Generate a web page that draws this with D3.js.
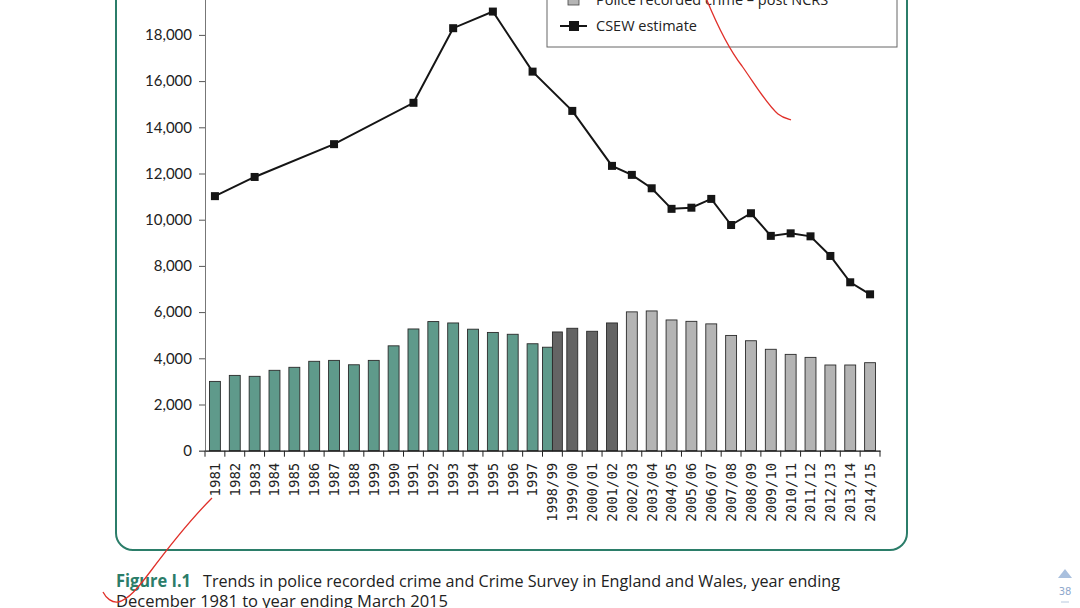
<!DOCTYPE html>
<html><head><meta charset="utf-8">
<script src="https://cdn.jsdelivr.net/npm/d3@7"></script>
<style>
html,body{margin:0;padding:0;background:#fff;overflow:hidden;}
svg{display:block;}
</style></head>
<body>
<svg id="chart" width="1080" height="608"></svg>
<script>
// ---- data ----
const categories = ["1981","1982","1983","1984","1985","1986","1987","1988","1999","1990","1991","1992","1993","1994","1995","1996","1997",
  "1998/99","1999/00","2000/01","2001/02","2002/03","2003/04","2004/05","2005/06","2006/07","2007/08","2008/09","2009/10","2010/11","2011/12","2012/13","2013/14","2014/15"];
const oldRulesCats = ["1981","1982","1983","1984","1985","1986","1987","1988","1999","1990","1991","1992","1993","1994","1995","1996","1997","1998/99"];
const oldRulesValues = [3000,3260,3220,3480,3610,3870,3910,3720,3910,4540,5270,5590,5530,5260,5120,5040,4630,4480];
const newRulesCats = ["1998/99","1999/00","2000/01","2001/02"];
const newRulesValues = [5140,5300,5170,5530];
const postNCRSCats = ["2002/03","2003/04","2004/05","2005/06","2006/07","2007/08","2008/09","2009/10","2010/11","2011/12","2012/13","2013/14","2014/15"];
const postNCRSValues = [6010,6050,5660,5600,5490,4990,4760,4390,4170,4040,3710,3710,3810];
const csewCats = ["1981","1983","1987","1991","1993","1995","1997","1999/00","2001/02","2002/03","2003/04","2004/05","2005/06","2006/07","2007/08","2008/09","2009/10","2010/11","2011/12","2012/13","2013/14","2014/15"];
const csewValues = [11020,11850,13270,15060,18290,19010,16410,14710,12330,11940,11360,10470,10520,10900,9770,10280,9300,9410,9280,8430,7290,6770];
const yTicks = [0,2000,4000,6000,8000,10000,12000,14000,16000,18000];
const legendLabels = ["Police recorded crime – post NCRS","CSEW estimate"];

const colors = {old:"#5f9a8b", neu:"#646464", post:"#b4b4b4", line:"#151515", frame:"#2b7d69"};

const svg = d3.select("#chart");

// frame (rounded panel, top cut off)
svg.append("rect").attr("x",116).attr("y",-40).attr("width",791).attr("height",590)
  .attr("rx",17).attr("ry",17).attr("fill","none").attr("stroke",colors.frame).attr("stroke-width",2);

const x = d3.scaleBand().domain(categories).range([205,880]).padding(0);
const y = d3.scaleLinear().domain([0,20000]).range([450.7,-11.3]);

// y axis
const yAxis = svg.append("g").attr("transform","translate(205,0)")
  .call(d3.axisLeft(y).tickValues(yTicks).tickSize(6).tickPadding(7).tickFormat(d3.format(",")));
yAxis.select(".domain").attr("stroke","#777");
yAxis.selectAll(".tick line").attr("stroke","#555");
yAxis.selectAll("text").attr("font-family","Lato, 'Open Sans', sans-serif").attr("font-size",15).attr("fill","#222");

// bars
const bw = x.bandwidth();
const barW = bw*0.55;
const shared = new Set(oldRulesCats.filter(c=>newRulesCats.includes(c)));
function drawBars(cats, vals, fill, which){
  svg.append("g").selectAll("rect").data(cats.map((c,i)=>({c,v:vals[i]}))).join("rect")
    .attr("x",d=>{
      if(shared.has(d.c)) return which==="old" ? x(d.c) : x(d.c)+bw/2;
      return x(d.c)+(bw-barW)/2;
    })
    .attr("width",d=>shared.has(d.c)? bw/2 : barW)
    .attr("y",d=>y(d.v)).attr("height",d=>y(0)-y(d.v))
    .attr("fill",fill).attr("stroke","#2a2a2a").attr("stroke-width",0.9);
}
drawBars(oldRulesCats, oldRulesValues, colors.old, "old");
drawBars(newRulesCats, newRulesValues, colors.neu, "new");
drawBars(postNCRSCats, postNCRSValues, colors.post, "post");

// x axis
const xAxis = svg.append("g").attr("transform",`translate(0,${y(0)})`)
  .call(d3.axisBottom(x).tickSize(0).tickPadding(0));
xAxis.select(".domain").attr("stroke","#111").attr("stroke-width",1.2);
xAxis.selectAll(".tick text")
  .attr("font-family","'DejaVu Sans Mono', monospace").attr("font-size",14).attr("fill","#222")
  .attr("text-anchor","end").attr("transform","rotate(-90)").attr("x",-12).attr("y",0).attr("dy","0.35em");
// tick marks at band boundaries
const bounds = categories.map(c=>x(c)).concat([x(categories[categories.length-1])+bw]);
xAxis.append("g").selectAll("line").data(bounds).join("line")
  .attr("x1",d=>d).attr("x2",d=>d).attr("y1",0).attr("y2",6).attr("stroke","#222");

// CSEW line
const pts = csewCats.map((c,i)=>({c,v:csewValues[i]}));
const line = d3.line().x(d=>x(d.c)+bw/2).y(d=>y(d.v));
svg.append("path").datum(pts).attr("d",line).attr("fill","none").attr("stroke",colors.line).attr("stroke-width",2);
svg.append("g").selectAll("rect").data(pts).join("rect")
  .attr("x",d=>x(d.c)+bw/2-4).attr("y",d=>y(d.v)-4).attr("width",8).attr("height",8).attr("fill",colors.line);

// legend (top part is cut off by the page)
const lg = svg.append("g");
lg.append("rect").attr("x",547).attr("y",-80).attr("width",350).attr("height",127)
  .attr("fill","#fff").attr("stroke","#666").attr("stroke-width",1);
legendLabels.forEach((lab,i)=>{
  const cy = 0 + i*26;
  if(i===0){
    lg.append("rect").attr("x",568).attr("y",cy-6).attr("width",11).attr("height",11)
      .attr("fill",colors.post).attr("stroke","#444").attr("stroke-width",0.8);
  } else {
    lg.append("line").attr("x1",560).attr("x2",587).attr("y1",cy).attr("y2",cy).attr("stroke",colors.line).attr("stroke-width",2);
    lg.append("rect").attr("x",569).attr("y",cy-5).attr("width",10).attr("height",10).attr("fill",colors.line);
  }
  lg.append("text").attr("x",596).attr("y",cy).attr("dy","0.36em")
    .attr("font-family","'Open Sans', sans-serif").attr("font-size",14.5).attr("fill","#222").text(lab);
});

// caption
svg.append("text").attr("x",116).attr("y",587).attr("font-family","'Open Sans', sans-serif")
  .attr("font-size",17).attr("font-weight","bold").attr("fill",colors.frame)
  .attr("textLength",75).attr("lengthAdjust","spacingAndGlyphs").text("Figure I.1");
svg.append("text").attr("x",203).attr("y",587).attr("font-family","'Open Sans', sans-serif")
  .attr("font-size",17).attr("fill","#222")
  .attr("textLength",637).attr("lengthAdjust","spacingAndGlyphs")
  .text("Trends in police recorded crime and Crime Survey in England and Wales, year ending");
svg.append("text").attr("x",116).attr("y",607).attr("font-family","'Open Sans', sans-serif")
  .attr("font-size",17).attr("fill","#222")
  .attr("textLength",332).attr("lengthAdjust","spacingAndGlyphs")
  .text("December 1981 to year ending March 2015");

// page indicator
svg.append("path").attr("d","M1058,578 L1065,569 L1072,578 Z").attr("fill","#a9c0de");
svg.append("text").attr("x",1065).attr("y",595).attr("text-anchor","middle")
  .attr("font-family","'DejaVu Sans', sans-serif").attr("font-size",10).attr("fill","#8ea8cc").text("38");
svg.append("line").attr("x1",1061).attr("x2",1069).attr("y1",602).attr("y2",602).attr("stroke","#b8c8de").attr("stroke-width",1);

// hand-drawn red annotation strokes
svg.append("path").attr("d","M706,-2 C715,20 728,48 742,66 C756,86 768,106 778,114 C783,118 788,119 791,120")
  .attr("fill","none").attr("stroke","#e0302a").attr("stroke-width",1.3);
svg.append("path").attr("d","M212,498 C190,520 168,548 150,572 C138,588 128,600 118,602 C112,603 106,598 103,592")
  .attr("fill","none").attr("stroke","#e0302a").attr("stroke-width",1.3);
</script>
</body></html>
